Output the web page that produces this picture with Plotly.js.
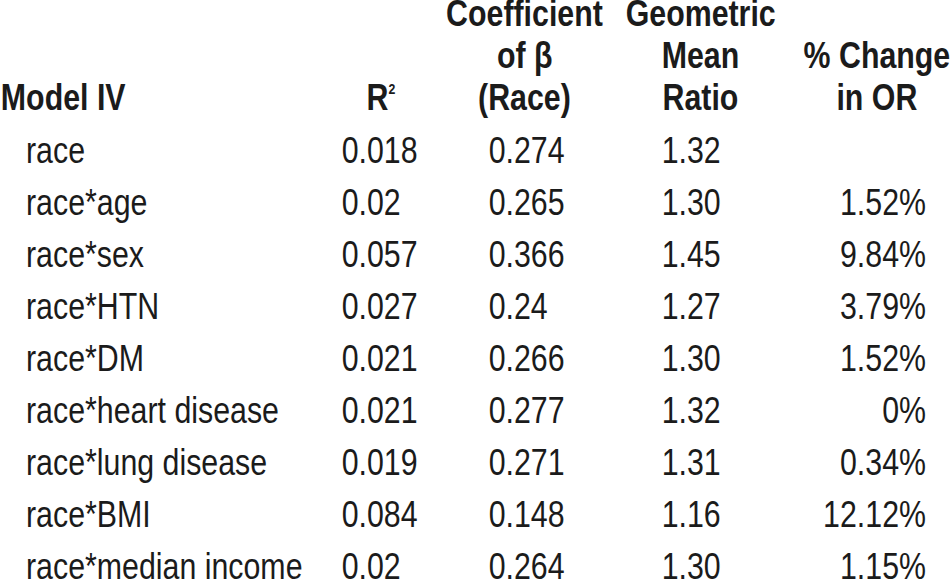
<!DOCTYPE html>
<html>
<head>
<meta charset="utf-8">
<script src="https://cdn.plot.ly/plotly-3.0.1.min.js"></script>
<style>
  html, body { margin: 0; padding: 0; background: #ffffff; overflow: hidden; }
  /* Arial Narrow is Arial compressed horizontally to 82%: draw with Liberation Sans
     (Arial metrics) on a wider canvas and compress the whole chart horizontally. */
  #chart { width: 1161px; height: 582px; transform: scaleX(0.82); transform-origin: 0 0; }
</style>
</head>
<body>
<div id="chart"></div>
<script>
// ---------- data ----------
const rowLabels = ['race', 'race*age', 'race*sex', 'race*HTN', 'race*DM',
  'race*heart disease', 'race*lung disease', 'race*BMI', 'race*median income'];
const rSquared = [0.018, 0.02, 0.057, 0.027, 0.021, 0.021, 0.019, 0.084, 0.02];
const coefBeta = [0.274, 0.265, 0.366, 0.24, 0.266, 0.277, 0.271, 0.148, 0.264];
const geoMeanRatio = [1.32, 1.30, 1.45, 1.27, 1.30, 1.32, 1.31, 1.16, 1.30];
const pctChangeOR = [null, 1.52, 9.84, 3.79, 1.52, 0, 0.34, 12.12, 1.15];

const headerModel = ['Model IV'];
const headerR2 = ['R<sup><span style="font-size:15px">2</span></sup>'];
const headerCoef = ['Coefficient', 'of β', '(Race)'];
const headerGMR = ['Geometric', 'Mean', 'Ratio'];
const headerPct = ['% Change', 'in OR'];

// ---------- styles / layout ----------
const FONT = '"Liberation Sans", Arial, sans-serif';
const FS = 37;
const INK = '#1b1b1b';
const SX = 0.82;                 // horizontal compression applied by CSS
const W = 1161, H = 582;         // drawing size before compression
const XMAX = W * SX;             // x axis expressed in on-screen pixels
// column anchors (on-screen pixel positions on the hidden x axis) and text alignment
const cols = {
  label: { x: 26, pos: 'middle right' },
  r2: { x: 341.7, pos: 'middle right', hx: 381 },
  coef: { x: 488.7, pos: 'middle right', hx: 524.5 },
  gmr: { x: 661.7, pos: 'middle right', hx: 700.5 },
  pct: { x: 926, pos: 'middle left', hx: 877 }
};
const headerBaselines = [27, 69, 111]; // px, three header lines
const descent = 0.212 * FS;

function colTrace(key, texts) {
  const c = cols[key];
  return {
    type: 'scatter', mode: 'text',
    x: rowLabels.map(() => c.x),
    y: rowLabels,
    text: texts,
    textposition: c.pos,
    textfont: { family: FONT, size: FS, color: INK },
    cliponaxis: false,
    hoverinfo: 'skip', showlegend: false
  };
}

const fmtPlain = v => (v === null || v === undefined) ? '' : String(v);
const data = [
  colTrace('label', rowLabels),
  colTrace('r2', rSquared.map(fmtPlain)),
  colTrace('coef', coefBeta.map(fmtPlain)),
  colTrace('gmr', geoMeanRatio.map(v => v.toFixed(2))),
  colTrace('pct', pctChangeOR.map(v => (v === null ? '' : String(v) + '%')))
];

// header annotations (bottom-aligned lines, last line on the bottom header line)
const annotations = [];
function addHeader(lines, x, xanchor) {
  const n = lines.length;
  lines.forEach((t, i) => {
    const base = headerBaselines[headerBaselines.length - n + i];
    annotations.push({
      text: t, xref: 'x', yref: 'paper', x: x, y: 1 - (base + descent) / H,
      xanchor: xanchor, yanchor: 'bottom', showarrow: false, borderpad: 0,
      font: { family: FONT, size: FS, color: INK, weight: 'bold' }
    });
  });
}
addHeader(headerModel, 0, 'left');
addHeader(headerR2, cols.r2.hx, 'center');
addHeader(headerCoef, cols.coef.hx, 'center');
addHeader(headerGMR, cols.gmr.hx, 'center');
addHeader(headerPct, cols.pct.hx, 'center');

// category y axis: row pitch 52 px, first row text baseline at 163 px
const pitch = 52;
const firstY = 163 - 0.25 * FS;
const yTop = -firstY / pitch;
const yBottom = yTop + H / pitch;

const layout = {
  width: W, height: H,
  margin: { l: 0, r: 0, t: 0, b: 0, pad: 0 },
  paper_bgcolor: '#ffffff', plot_bgcolor: '#ffffff',
  xaxis: { range: [0, XMAX], visible: false, fixedrange: true },
  yaxis: { type: 'category', categoryorder: 'array', categoryarray: rowLabels,
           range: [yBottom, yTop], visible: false, fixedrange: true },
  annotations: annotations,
  showlegend: false
};

Plotly.newPlot('chart', data, layout, { staticPlot: true, displayModeBar: false });
</script>
</body>
</html>
